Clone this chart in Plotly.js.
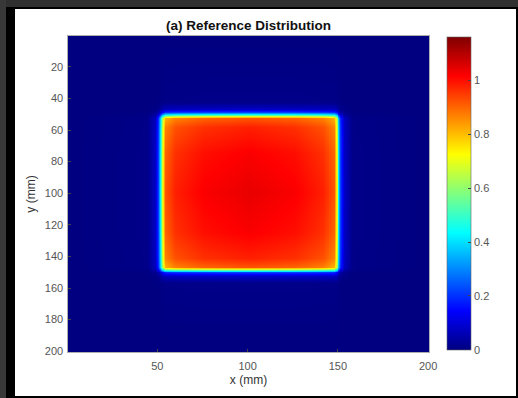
<!DOCTYPE html>
<html>
<head>
<meta charset="utf-8">
<script src="https://cdn.plot.ly/plotly-3.0.1.min.js"></script>
<style>
  html, body { margin: 0; padding: 0; width: 518px; height: 398px; overflow: hidden; background: #000; }
  #topband { position: absolute; left: 0; top: 0; width: 518px; height: 7px; background: #303030; }
  #leftband { position: absolute; left: 0; top: 0; width: 6px; height: 398px; background: #383838; }
  #plot { position: absolute; left: 15px; top: 9px; width: 501px; height: 387px; background: #fff; }
</style>
</head>
<body>
<div id="topband"></div>
<div id="leftband"></div>
<div id="plot"></div>
<script>
// Grid node positions (mm) — centres of the sampled cells
const xNodes = [0.5, 44, 48.5, 50.5, 51.5, 52.5, 54, 60, 76, 101, 126, 142, 147.8, 149.3, 150.3, 151.3, 153.3, 157.8, 200.5];
const yNodes = [0.5, 42.4, 46.9, 48.9, 49.9, 50.9, 52.4, 58.4, 74.5, 99.5, 124.5, 140.8, 146.6, 148.1, 149.1, 150.1, 152.1, 156.6, 200.5];

// Intensity values (rows follow yNodes, columns follow xNodes)
const zValues = [
  [0, 0,    0,    0,    0,    0,    0,    0,    0,     0,     0,     0,    0,    0,    0,    0,    0,    0,    0],
  [0, 0,    .001, .002, .004, .007, .009, .009, .010,  .010,  .010,  .009, .009, .007, .004, .002, .001, 0,    0],
  [0, .001, .006, .017, .032, .052, .071, .075, .078,  .080,  .078,  .075, .071, .052, .032, .017, .006, .001, 0],
  [0, .002, .017, .047, .089, .144, .195, .207, .216,  .220,  .216,  .207, .195, .144, .089, .047, .017, .002, 0],
  [0, .004, .032, .089, .170, .275, .372, .396, .412,  .420,  .412,  .396, .372, .275, .170, .089, .032, .004, 0],
  [0, .007, .052, .144, .275, .445, .602, .641, .667,  .680,  .667,  .641, .602, .445, .275, .144, .052, .007, 0],
  [0, .009, .071, .195, .372, .602, .814, .867, .902,  .920,  .902,  .867, .814, .602, .372, .195, .071, .009, 0],
  [0, .009, .075, .207, .396, .641, .867, .924, .961,  .980,  .961,  .924, .867, .641, .396, .207, .075, .009, 0],
  [0, .010, .078, .216, .412, .667, .902, .961, 1.000, 1.020, 1.000, .961, .902, .667, .412, .216, .078, .010, 0],
  [0, .010, .080, .220, .420, .680, .920, .980, 1.020, 1.040, 1.020, .980, .920, .680, .420, .220, .080, .010, 0],
  [0, .010, .078, .216, .412, .667, .902, .961, 1.000, 1.020, 1.000, .961, .902, .667, .412, .216, .078, .010, 0],
  [0, .009, .075, .207, .396, .641, .867, .924, .961,  .980,  .961,  .924, .867, .641, .396, .207, .075, .009, 0],
  [0, .009, .071, .195, .372, .602, .814, .867, .902,  .920,  .902,  .867, .814, .602, .372, .195, .071, .009, 0],
  [0, .007, .052, .144, .275, .445, .602, .641, .667,  .680,  .667,  .641, .602, .445, .275, .144, .052, .007, 0],
  [0, .004, .032, .089, .170, .275, .372, .396, .412,  .420,  .412,  .396, .372, .275, .170, .089, .032, .004, 0],
  [0, .002, .017, .047, .089, .144, .195, .207, .216,  .220,  .216,  .207, .195, .144, .089, .047, .017, .002, 0],
  [0, .001, .006, .017, .032, .052, .071, .075, .078,  .080,  .078,  .075, .071, .052, .032, .017, .006, .001, 0],
  [0, 0,    .001, .002, .004, .007, .009, .009, .010,  .010,  .010,  .009, .009, .007, .004, .002, .001, 0,    0],
  [0, 0,    0,    0,    0,    0,    0,    0,    0,     0,     0,     0,    0,    0,    0,    0,    0,    0,    0]
];

const xTicks = [50, 100, 150, 200];
const yTicks = [20, 40, 60, 80, 100, 120, 140, 160, 180, 200];
const cbarTicks = [0, 0.2, 0.4, 0.6, 0.8, 1];
const colorMin = 0;
const colorMax = 1.16;

const jet = [
  [0, 'rgb(0,0,128)'],
  [0.125, 'rgb(0,0,255)'],
  [0.375, 'rgb(0,255,255)'],
  [0.625, 'rgb(255,255,0)'],
  [0.875, 'rgb(255,0,0)'],
  [1, 'rgb(128,0,0)']
];

const fontFam = '"Liberation Sans", Arial, Helvetica, sans-serif';
const tickFont = { family: fontFam, size: 11, color: '#555' };

const trace = {
  type: 'heatmap',
  x: xNodes,
  y: yNodes,
  z: zValues,
  zmin: colorMin,
  zmax: colorMax,
  zsmooth: 'best',
  colorscale: jet,
  hoverinfo: 'skip',
  colorbar: {
    x: 1.05, xanchor: 'left', xref: 'paper', xpad: 0,
    y: 0.997, yanchor: 'top', yref: 'paper', ypad: 0,
    len: 0.99, lenmode: 'fraction',
    thickness: 24,
    outlinewidth: 0.6, outlinecolor: '#666',
    tickvals: cbarTicks,
    ticks: 'inside', ticklen: 3, tickcolor: '#444',
    tickfont: tickFont
  }
};

const layout = {
  width: 501, height: 387,
  margin: { l: 53, r: 87, t: 27, b: 44 },
  paper_bgcolor: '#fff',
  plot_bgcolor: '#fff',
  title: {
    text: '<b>(a) Reference Distribution</b>',
    font: { family: fontFam, size: 13.5, color: '#111' },
    x: 0.5, xref: 'paper', xanchor: 'center',
    y: 0.959, yref: 'container', yanchor: 'middle'
  },
  xaxis: {
    range: [0.5, 200.5],
    tickvals: xTicks,
    ticks: 'inside', ticklen: 3, tickcolor: '#444',
    ticklabelstandoff: 4,
    showgrid: false, zeroline: false,
    showline: true, mirror: true, linecolor: '#777', linewidth: 0.6,
    tickfont: tickFont,
    title: { text: 'x (mm)', font: { family: fontFam, size: 12, color: '#333' }, standoff: 4 }
  },
  yaxis: {
    range: [200.5, 0.5],
    tickvals: yTicks,
    ticks: 'inside', ticklen: 3, tickcolor: '#444',
    ticklabelstandoff: 2,
    showgrid: false, zeroline: false,
    showline: true, mirror: true, linecolor: '#777', linewidth: 0.6,
    tickfont: tickFont,
    title: { text: 'y (mm)', font: { family: fontFam, size: 12, color: '#333' }, standoff: 6 }
  }
};

Plotly.newPlot('plot', [trace], layout, { displayModeBar: false, staticPlot: true });
</script>
</body>
</html>
